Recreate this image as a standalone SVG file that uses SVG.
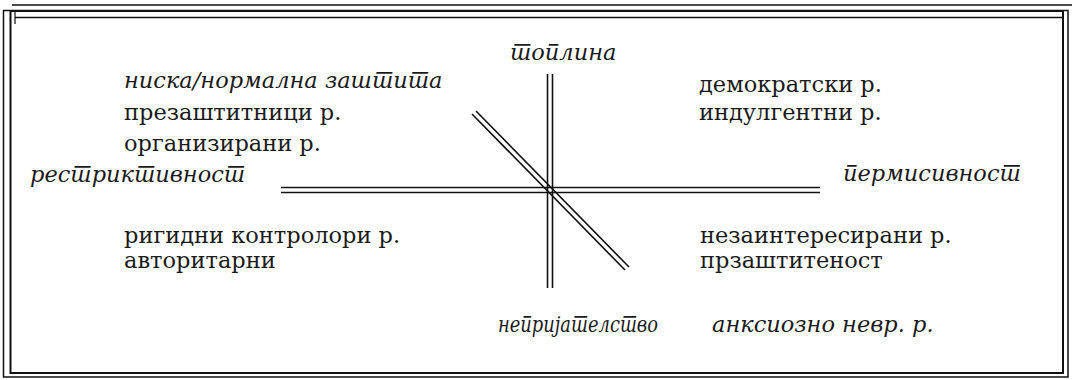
<svg xmlns="http://www.w3.org/2000/svg" width="1072" height="380" viewBox="0 0 1072 380">
<style>
.f{fill:none;stroke:#111}
.ax{stroke:#111;stroke-width:1.6;fill:none}
.t{font-family:"DejaVu Serif",serif;font-size:22.5px;fill:#1a1a1a}
.i{font-family:"DejaVu Serif",serif;font-size:22.5px;font-style:italic;fill:#1a1a1a}
</style>
<rect width="1072" height="380" fill="#fff"/>
<g id="frame">
<line class="f" x1="12" y1="5" x2="1072" y2="5" stroke-width="1.3"/>
<rect class="f" x="3.5" y="10.5" width="1064.5" height="366.5" stroke-width="1.5"/>
<rect class="f" x="10.5" y="11" width="1052.5" height="362" stroke-width="2"/>
<line class="f" x1="15" y1="17.5" x2="1063" y2="17.5" stroke-width="1.4"/>
<line class="f" x1="15" y1="11" x2="15" y2="24" stroke-width="1.2"/>
</g>
<g id="connectors">
<line class="ax" x1="281" y1="187.5" x2="820" y2="187.5"/>
<line class="ax" x1="281" y1="192.5" x2="820" y2="192.5"/>
<line class="ax" x1="547.5" y1="74" x2="547.5" y2="288"/>
<line class="ax" x1="552.5" y1="74" x2="552.5" y2="288"/>
<line class="ax" x1="472" y1="114" x2="625" y2="270"/>
<line class="ax" x1="476" y1="111" x2="629" y2="267"/>
</g>
<g id="top" lang="mk"><text class="i" x="510" y="60">топлина</text></g>
<g id="bottom" lang="mk"><text class="i" x="498" y="332" textLength="160" lengthAdjust="spacingAndGlyphs">непријателство</text></g>
<g id="left" lang="mk"><text class="i" x="30" y="182">рестриктивност</text></g>
<g id="right" lang="mk"><text class="i" x="843" y="181">пермисивност</text></g>
<g id="q-top-left" lang="mk">
<text class="i" x="124" y="88">ниска/нормална заштита</text>
<text class="t" x="124" y="120">презаштитници р.</text>
<text class="t" x="124" y="151">организирани р.</text>
</g>
<g id="q-top-right" lang="mk">
<text class="t" x="699" y="92">демократски р.</text>
<text class="t" x="699" y="120">индулгентни р.</text>
</g>
<g id="q-bottom-left" lang="mk">
<text class="t" x="124" y="243">ригидни контролори р.</text>
<text class="t" x="124" y="268">авторитарни</text>
</g>
<g id="q-bottom-right" lang="mk">
<text class="t" x="700" y="243">незаинтересирани р.</text>
<text class="t" x="700" y="268">прзаштитеност</text>
<text class="i" x="712" y="332">анксиозно невр. р.</text>
</g>
</svg>
